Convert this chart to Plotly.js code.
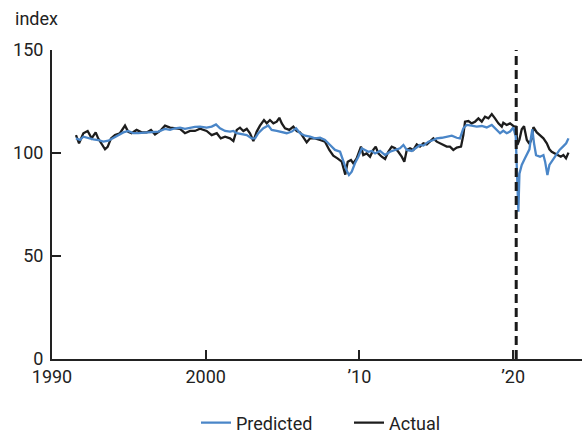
<!DOCTYPE html>
<html>
<head>
<meta charset="utf-8">
<script src="https://cdn.plot.ly/plotly-3.0.1.min.js"></script>
<style>html,body{margin:0;padding:0;background:#fff;}#chart{width:582px;height:432px;}</style>
</head>
<body>
<div id="chart"></div>
<script>
const actualYears = [1991.56,1991.76,1992.04,1992.32,1992.58,1992.84,1993.01,1993.23,1993.45,1993.62,
1993.84,1994.10,1994.42,1994.75,1994.96,1995.18,1995.50,1995.83,1996.16,1996.44,
1996.70,1997.03,1997.35,1997.68,1998.00,1998.33,1998.65,1998.98,1999.30,1999.63,
2000.06,2000.39,2000.72,2000.98,2001.26,2001.58,2001.80,2002.02,2002.23,2002.45,
2002.67,2002.88,2003.10,2003.32,2003.53,2003.79,2003.97,2004.18,2004.40,2004.62,
2004.79,2004.95,2005.16,2005.44,2005.70,2005.92,2006.14,2006.35,2006.57,2006.79,
2007.11,2007.44,2007.76,2008.04,2008.30,2008.57,2008.85,2009.08,2009.24,2009.45,
2009.60,2009.82,2010.10,2010.25,2010.47,2010.69,2010.90,2011.06,2011.23,2011.45,
2011.67,2011.88,2012.10,2012.32,2012.53,2012.75,2012.92,2013.08,2013.29,2013.51,
2013.73,2013.94,2014.16,2014.38,2014.59,2014.81,2015.03,2015.24,2015.46,2015.68,
2015.89,2016.11,2016.33,2016.61,2016.76,2016.87,2017.09,2017.30,2017.52,2017.74,
2017.96,2018.17,2018.39,2018.61,2018.82,2019.04,2019.26,2019.36,2019.58,2019.80,
2020.01,2020.19,2020.28,2020.41,2020.56,2020.71,2020.89,2021.06,2021.21,2021.32,
2021.54,2021.75,2021.97,2022.19,2022.36,2022.51,2022.73,2022.95,2023.10,2023.27,
2023.44,2023.60];
const actualValues = [108.7,104.7,109.6,110.7,107.1,110.0,107.0,104.2,101.8,103.0,
107.1,108.7,109.6,113.3,110.3,109.6,111.2,110.0,110.0,111.2,
109.0,110.7,113.3,112.3,112.0,111.7,109.6,110.7,110.7,111.8,
110.7,108.7,109.6,107.1,107.9,107.1,105.8,111.2,112.3,110.7,
111.7,109.6,105.8,110.4,113.3,116.0,114.4,116.0,114.4,115.2,
117.1,114.4,112.0,111.2,112.8,110.7,110.0,107.9,105.2,107.1,
107.1,106.3,105.5,101.5,98.7,97.4,95.8,89.5,95.8,96.6,
95.0,97.4,103.1,99.0,99.8,98.2,101.5,103.1,99.8,98.2,
97.1,100.6,103.1,102.3,100.6,98.2,95.8,101.5,102.3,101.5,
104.2,103.1,104.7,104.2,105.8,107.1,105.5,104.7,104.2,103.1,
103.1,101.5,102.6,103.1,108.7,115.2,115.5,114.4,115.2,116.8,
115.2,117.6,116.8,118.9,116.8,114.4,112.8,114.7,113.6,114.4,
113.1,112.8,104.0,106.5,111.5,113.0,106.3,104.5,107.0,112.5,
110.0,108.7,107.1,104.7,101.8,100.6,99.8,99.0,98.2,99.0,
97.4,100.2];

const predictedYears = [1991.56,1991.82,1992.04,1992.36,1992.69,1993.01,1993.34,1993.67,1993.99,1994.31,
1994.64,1994.96,1995.29,1995.61,1996.05,1996.48,1996.92,1997.35,1997.68,1998.00,
1998.33,1998.65,1998.98,1999.30,1999.63,2000.06,2000.39,2000.67,2000.93,2001.26,
2001.58,2001.80,2002.02,2002.34,2002.67,2002.99,2003.21,2003.42,2003.75,2004.07,
2004.29,2004.62,2004.95,2005.27,2005.60,2005.88,2006.14,2006.46,2006.79,2007.11,
2007.44,2007.76,2008.09,2008.41,2008.74,2008.95,2009.17,2009.32,2009.50,2009.71,
2009.93,2010.15,2010.36,2010.58,2010.80,2011.02,2011.34,2011.67,2011.99,2012.32,
2012.64,2012.86,2013.08,2013.41,2013.73,2013.94,2014.16,2014.49,2014.81,2015.03,
2015.36,2015.68,2016.01,2016.33,2016.54,2016.76,2016.98,2017.30,2017.63,2017.96,
2018.28,2018.61,2018.93,2019.15,2019.36,2019.58,2019.80,2020.01,2020.17,2020.28,
2020.34,2020.41,2020.56,2020.77,2020.93,2021.06,2021.17,2021.25,2021.36,2021.49,
2021.75,2021.97,2022.08,2022.23,2022.36,2022.58,2022.80,2023.02,2023.24,2023.45,
2023.60];
const predictedValues = [107.1,106.3,107.9,107.1,106.6,106.3,105.5,106.0,107.4,108.7,
110.0,110.7,109.6,109.6,109.9,110.0,110.4,111.7,111.2,112.0,
112.3,111.7,112.3,112.7,112.8,112.3,112.8,113.9,112.0,110.7,
110.4,110.7,109.6,109.0,108.7,107.1,107.1,109.6,112.0,113.3,
111.2,110.7,110.0,109.6,110.4,112.0,109.6,108.4,107.9,107.1,
107.4,106.3,103.9,101.5,100.6,95.8,91.5,89.3,90.9,95.0,
98.2,102.3,101.5,100.6,101.0,99.8,101.0,99.0,100.6,101.5,
102.3,103.9,101.5,101.0,102.6,103.9,103.6,105.5,106.3,107.1,
107.4,107.9,108.4,107.4,107.1,112.0,113.6,113.3,112.8,113.1,
112.4,113.6,111.2,109.6,110.8,109.6,110.4,112.4,107.9,88.5,
71.5,90.0,94.2,97.4,99.8,101.8,107.9,111.5,104.7,99.0,
98.2,99.0,95.8,89.3,94.2,96.6,99.0,101.5,103.1,104.7,
107.1];

const xTickVals = [1990, 2000, 2010, 2020];
const xTickText = ['1990', '2000', '\u201910', '\u201920'];
const yTickVals = [0, 50, 100, 150];
const seriesNames = ['Predicted', 'Actual'];
const breakYear = [2020.2];

const FONT = 'Roboto, "Liberation Sans", Arial, sans-serif';
const INK = '#222222';

const traces = [
  {x: actualYears, y: actualValues, type: 'scatter', mode: 'lines', name: seriesNames[1],
   line: {color: '#1d1d1d', width: 2.3}, legend: 'legend2'},
  {x: predictedYears, y: predictedValues, type: 'scatter', mode: 'lines', name: seriesNames[0],
   line: {color: '#4a86c8', width: 2.3}, legend: 'legend'}
];

const layout = {
  width: 582, height: 432,
  margin: {l: 52, r: 0, t: 50, b: 73, autoexpand: false},
  paper_bgcolor: '#ffffff', plot_bgcolor: '#ffffff',
  font: {family: FONT, size: 18, color: INK},
  showlegend: true,
  xaxis: {
    range: [1990, 2024.48], tickvals: xTickVals, ticktext: xTickText,
    ticks: 'inside', ticklen: 9, tickwidth: 2, tickcolor: INK,
    showline: true, linewidth: 2, linecolor: INK,
    showgrid: false, zeroline: false, automargin: false,
    tickfont: {family: FONT, size: 18, color: INK}
  },
  yaxis: {
    range: [0, 150], tickvals: yTickVals,
    ticks: 'inside', ticklen: 9, tickwidth: 2, tickcolor: INK,
    showline: true, linewidth: 2, linecolor: INK,
    showgrid: false, zeroline: false, automargin: false,
    ticklabelstandoff: 3,
    tickfont: {family: FONT, size: 18, color: INK}
  },
  legend: {orientation: 'h', x: (196 - 52) / 530, xanchor: 'left', y: -0.207, yanchor: 'middle',
           font: {family: FONT, size: 18, color: INK}, bgcolor: 'rgba(0,0,0,0)'},
  legend2: {orientation: 'h', x: (349 - 52) / 530, xanchor: 'left', y: -0.207, yanchor: 'middle',
           font: {family: FONT, size: 18, color: INK}, bgcolor: 'rgba(0,0,0,0)'},
  shapes: [{type: 'line', xref: 'x', yref: 'y', x0: breakYear[0], x1: breakYear[0], y0: 0, y1: 150,
            line: {color: '#1a1a1a', width: 3, dash: '9px,5px'}}],
  annotations: [{text: 'index', xref: 'paper', yref: 'paper', x: (13 - 52) / 530, y: 1 + (50 - 19) / 309,
                 xanchor: 'left', yanchor: 'middle', showarrow: false,
                 font: {family: FONT, size: 18, color: INK}}]
};

Plotly.newPlot('chart', traces, layout, {displayModeBar: false, staticPlot: true});
</script>
</body>
</html>
